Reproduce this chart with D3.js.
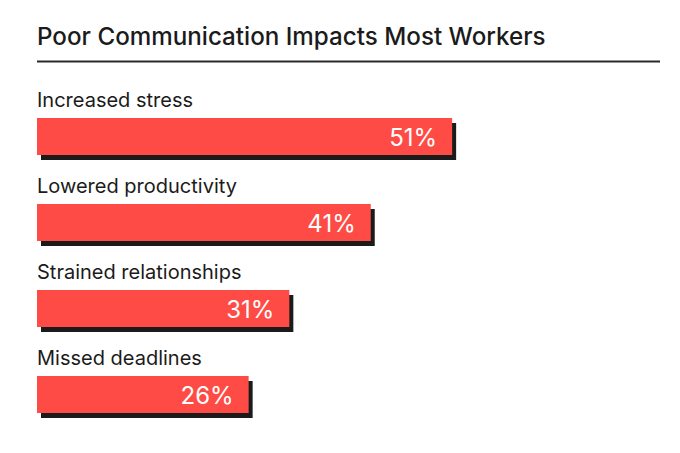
<!DOCTYPE html>
<html>
<head>
<meta charset="utf-8">
<script src="https://cdn.jsdelivr.net/npm/d3@7"></script>
<style>
  html, body { margin: 0; padding: 0; background: #fff; }
  svg { display: block; font-family: Inter, "Noto Sans", sans-serif; }
</style>
</head>
<body>
<svg id="chart" width="680" height="453"></svg>
<script>
// chart data
var categories = ['Increased stress', 'Lowered productivity', 'Strained relationships', 'Missed deadlines'];
var values = [51, 41, 31, 26];
var title = 'Poor Communication Impacts Most Workers';

var
svg = d3.select('#chart'),
left = 37,
right = 660,
red = '#ff4b45',
ink = '#1b1b1b';

var x = d3.scaleLinear().domain([0, 100]).range([left, left + 814]);
var y = d3.scaleBand().domain(categories).range([118, 413]).paddingInner(49 / 86).paddingOuter(0);

// title + rule
svg.append('text')
    .attr('x', left).attr('y', 45)
    .attr('fill', ink)
    .style('font-size', '24.2px').style('font-weight', 500)
    .text(title);

svg.append('line')
    .attr('x1', left).attr('x2', right)
    .attr('y1', 61.5).attr('y2', 61.5)
    .attr('stroke', '#2a2a2a').attr('stroke-width', 2);

var rows = svg.selectAll('g.row')
    .data(categories.map(function (c, i) { return {name: c, value: values[i]}; }))
    .enter().append('g')
    .attr('class', 'row');

// shadow
rows.append('rect')
    .attr('x', left + 4)
    .attr('y', function (d) { return y(d.name) + 5; })
    .attr('width', function (d) { return x(d.value) - left; })
    .attr('height', y.bandwidth())
    .attr('fill', ink);

rows.append('rect')
    .attr('x', left)
    .attr('y', function (d) { return y(d.name); })
    .attr('width', function (d) { return x(d.value) - left; })
    .attr('height', y.bandwidth())
    .attr('fill', red);

rows.append('text')
    .attr('x', left)
    .attr('y', function (d) { return y(d.name) - 11; })
    .attr('fill', ink)
    .style('font-size', '20px')
    .text(function (d) { return d.name; });

rows.append('text')
    .attr('x', function (d) { return x(d.value) - 15; })
    .attr('y', function (d) { return y(d.name) + 28; })
    .attr('text-anchor', 'end')
    .attr('fill', '#fff')
    .style('font-size', '24px').style('font-weight', 400)
    .text(function (d) { return d.value + '%'; });
</script>
</body>
</html>
